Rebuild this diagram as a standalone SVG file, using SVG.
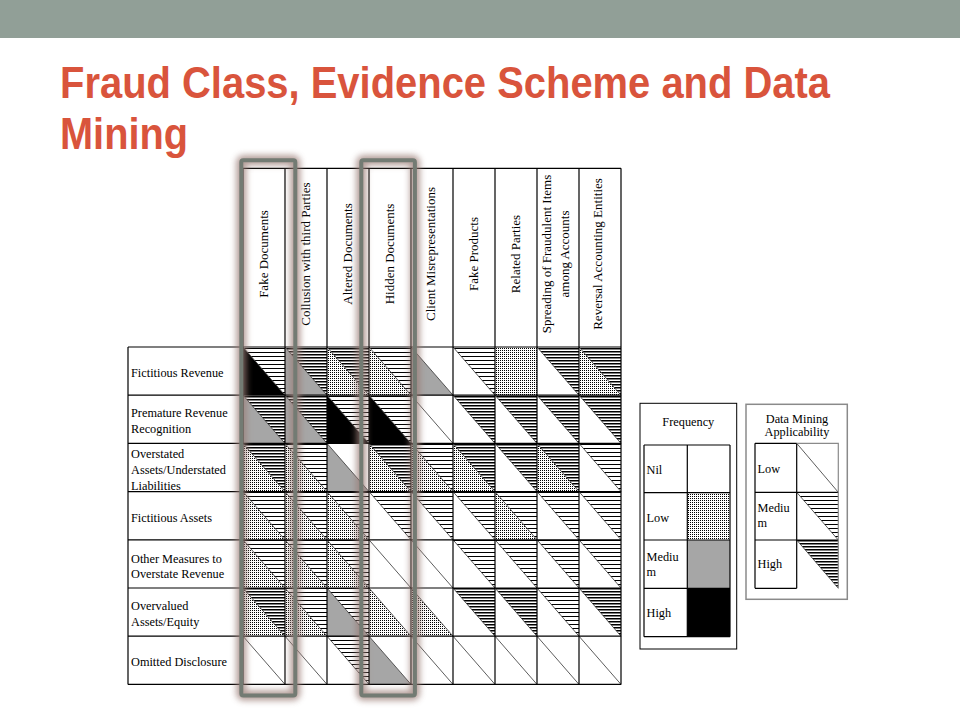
<svg xmlns="http://www.w3.org/2000/svg" width="960" height="720" viewBox="0 0 960 720">
<style>
.t{font-family:"Liberation Serif","Times New Roman",serif;font-size:12.3px;fill:#000}
.th{font-size:13px}
.ttl{font-family:"Liberation Sans",Arial,sans-serif;font-weight:bold;font-size:44px;fill:#d9543c}
.fL{fill:url(#dots)}
.fM{fill:#a6a6a6}
.fH{fill:#000}
.d1{fill:url(#med)}
.d2{fill:url(#dense)}
.dg{stroke:#333;stroke-width:0.8;fill:none}
.grid{stroke:#000;stroke-width:1.2;fill:none}
.hl{fill:none;stroke:#737b73;stroke-width:4}
.hls{fill:none;stroke:#9a7c74;stroke-width:10;opacity:0.75}
</style>
<defs>
<pattern id="dots" width="2" height="2" patternUnits="userSpaceOnUse"><rect width="2" height="2" fill="#fff"/><rect width="1" height="1" fill="#000"/></pattern>
<pattern id="med" width="4" height="4" patternUnits="userSpaceOnUse"><rect width="4" height="4" fill="#fff"/><rect width="4" height="1" fill="#000"/></pattern>
<pattern id="dense" width="3" height="3" patternUnits="userSpaceOnUse"><rect width="3" height="3" fill="#fff"/><rect width="3" height="1.5" fill="#000"/></pattern>
<filter id="blur" x="-30%" y="-10%" width="160%" height="120%"><feGaussianBlur stdDeviation="3.2"/></filter>
</defs>
<rect width="960" height="720" fill="#fff"/>
<rect id="topbar" x="0" y="0" width="960" height="38" fill="#919f97"/>
<g id="title">
<text class="ttl" x="60" y="98" textLength="770" lengthAdjust="spacingAndGlyphs">Fraud Class, Evidence Scheme and Data</text>
<text class="ttl" x="60" y="149" textLength="128" lengthAdjust="spacingAndGlyphs">Mining</text>
</g>

<g id="cells">
<g id="r1c1"><polygon class="fH" points="243,347 243,395.2 285,395.2"/><polygon class="d1" points="243,347 285,347 285,395.2"/><line class="dg" x1="243" y1="347" x2="285" y2="395.2"/></g>
<g id="r1c2"><polygon class="fM" points="285,347 285,395.2 327,395.2"/><polygon class="d2" points="285,347 327,347 327,395.2"/><line class="dg" x1="285" y1="347" x2="327" y2="395.2"/></g>
<g id="r1c3"><polygon class="fL" points="327,347 327,395.2 369,395.2"/><polygon class="d2" points="327,347 369,347 369,395.2"/><line class="dg" x1="327" y1="347" x2="369" y2="395.2"/></g>
<g id="r1c4"><polygon class="fL" points="369,347 369,395.2 411,395.2"/><polygon class="d1" points="369,347 411,347 411,395.2"/><line class="dg" x1="369" y1="347" x2="411" y2="395.2"/></g>
<g id="r1c5"><polygon class="fM" points="411,347 411,395.2 453,395.2"/><line class="dg" x1="411" y1="347" x2="453" y2="395.2"/></g>
<g id="r1c6"><polygon class="d1" points="453,347 495,347 495,395.2"/><line class="dg" x1="453" y1="347" x2="495" y2="395.2"/></g>
<g id="r1c7"><rect class="fL" x="495" y="347" width="42" height="48.2"/></g>
<g id="r1c8"><polygon class="d2" points="537,347 579,347 579,395.2"/><line class="dg" x1="537" y1="347" x2="579" y2="395.2"/></g>
<g id="r1c9"><polygon class="fL" points="579,347 579,395.2 621,395.2"/><polygon class="d2" points="579,347 621,347 621,395.2"/><line class="dg" x1="579" y1="347" x2="621" y2="395.2"/></g>

<g id="r2c1"><polygon class="fM" points="243,395.2 243,443.4 285,443.4"/><polygon class="d2" points="243,395.2 285,395.2 285,443.4"/><line class="dg" x1="243" y1="395.2" x2="285" y2="443.4"/></g>
<g id="r2c2"><polygon class="fM" points="285,395.2 285,443.4 327,443.4"/><polygon class="d2" points="285,395.2 327,395.2 327,443.4"/><line class="dg" x1="285" y1="395.2" x2="327" y2="443.4"/></g>
<g id="r2c3"><polygon class="fH" points="327,395.2 327,443.4 369,443.4"/><polygon class="d1" points="327,395.2 369,395.2 369,443.4"/><line class="dg" x1="327" y1="395.2" x2="369" y2="443.4"/></g>
<g id="r2c4"><polygon class="fH" points="369,395.2 369,443.4 411,443.4"/><polygon class="d1" points="369,395.2 411,395.2 411,443.4"/><line class="dg" x1="369" y1="395.2" x2="411" y2="443.4"/></g>
<g id="r2c5"><line class="dg" x1="411" y1="395.2" x2="453" y2="443.4"/></g>
<g id="r2c6"><polygon class="d2" points="453,395.2 495,395.2 495,443.4"/><line class="dg" x1="453" y1="395.2" x2="495" y2="443.4"/></g>
<g id="r2c7"><polygon class="d2" points="495,395.2 537,395.2 537,443.4"/><line class="dg" x1="495" y1="395.2" x2="537" y2="443.4"/></g>
<g id="r2c8"><polygon class="d2" points="537,395.2 579,395.2 579,443.4"/><line class="dg" x1="537" y1="395.2" x2="579" y2="443.4"/></g>
<g id="r2c9"><polygon class="d2" points="579,395.2 621,395.2 621,443.4"/><line class="dg" x1="579" y1="395.2" x2="621" y2="443.4"/></g>

<g id="r3c1"><polygon class="fL" points="243,443.4 243,491.6 285,491.6"/><polygon class="d2" points="243,443.4 285,443.4 285,491.6"/><line class="dg" x1="243" y1="443.4" x2="285" y2="491.6"/></g>
<g id="r3c2"><polygon class="fL" points="285,443.4 285,491.6 327,491.6"/><polygon class="d1" points="285,443.4 327,443.4 327,491.6"/><line class="dg" x1="285" y1="443.4" x2="327" y2="491.6"/></g>
<g id="r3c3"><polygon class="fM" points="327,443.4 327,491.6 369,491.6"/><line class="dg" x1="327" y1="443.4" x2="369" y2="491.6"/></g>
<g id="r3c4"><polygon class="fL" points="369,443.4 369,491.6 411,491.6"/><polygon class="d2" points="369,443.4 411,443.4 411,491.6"/><line class="dg" x1="369" y1="443.4" x2="411" y2="491.6"/></g>
<g id="r3c5"><polygon class="fL" points="411,443.4 411,491.6 453,491.6"/><polygon class="d1" points="411,443.4 453,443.4 453,491.6"/><line class="dg" x1="411" y1="443.4" x2="453" y2="491.6"/></g>
<g id="r3c6"><polygon class="fL" points="453,443.4 453,491.6 495,491.6"/><polygon class="d2" points="453,443.4 495,443.4 495,491.6"/><line class="dg" x1="453" y1="443.4" x2="495" y2="491.6"/></g>
<g id="r3c7"><polygon class="d2" points="495,443.4 537,443.4 537,491.6"/><line class="dg" x1="495" y1="443.4" x2="537" y2="491.6"/></g>
<g id="r3c8"><polygon class="fL" points="537,443.4 537,491.6 579,491.6"/><polygon class="d2" points="537,443.4 579,443.4 579,491.6"/><line class="dg" x1="537" y1="443.4" x2="579" y2="491.6"/></g>
<g id="r3c9"><polygon class="d1" points="579,443.4 621,443.4 621,491.6"/><line class="dg" x1="579" y1="443.4" x2="621" y2="491.6"/></g>

<g id="r4c1"><polygon class="fL" points="243,491.6 243,539.8 285,539.8"/><polygon class="d1" points="243,491.6 285,491.6 285,539.8"/><line class="dg" x1="243" y1="491.6" x2="285" y2="539.8"/></g>
<g id="r4c2"><polygon class="fL" points="285,491.6 285,539.8 327,539.8"/><polygon class="d1" points="285,491.6 327,491.6 327,539.8"/><line class="dg" x1="285" y1="491.6" x2="327" y2="539.8"/></g>
<g id="r4c3"><polygon class="fL" points="327,491.6 327,539.8 369,539.8"/><polygon class="d1" points="327,491.6 369,491.6 369,539.8"/><line class="dg" x1="327" y1="491.6" x2="369" y2="539.8"/></g>
<g id="r4c4"><polygon class="d1" points="369,491.6 411,491.6 411,539.8"/><line class="dg" x1="369" y1="491.6" x2="411" y2="539.8"/></g>
<g id="r4c5"><polygon class="d1" points="411,491.6 453,491.6 453,539.8"/><line class="dg" x1="411" y1="491.6" x2="453" y2="539.8"/></g>
<g id="r4c6"><polygon class="d1" points="453,491.6 495,491.6 495,539.8"/><line class="dg" x1="453" y1="491.6" x2="495" y2="539.8"/></g>
<g id="r4c7"><polygon class="fL" points="495,491.6 495,539.8 537,539.8"/><polygon class="d1" points="495,491.6 537,491.6 537,539.8"/><line class="dg" x1="495" y1="491.6" x2="537" y2="539.8"/></g>
<g id="r4c8"><polygon class="d1" points="537,491.6 579,491.6 579,539.8"/><line class="dg" x1="537" y1="491.6" x2="579" y2="539.8"/></g>
<g id="r4c9"><polygon class="d1" points="579,491.6 621,491.6 621,539.8"/><line class="dg" x1="579" y1="491.6" x2="621" y2="539.8"/></g>

<g id="r5c1"><polygon class="fL" points="243,539.8 243,588 285,588"/><polygon class="d1" points="243,539.8 285,539.8 285,588"/><line class="dg" x1="243" y1="539.8" x2="285" y2="588"/></g>
<g id="r5c2"><polygon class="fL" points="285,539.8 285,588 327,588"/><polygon class="d1" points="285,539.8 327,539.8 327,588"/><line class="dg" x1="285" y1="539.8" x2="327" y2="588"/></g>
<g id="r5c3"><polygon class="fL" points="327,539.8 327,588 369,588"/><polygon class="d1" points="327,539.8 369,539.8 369,588"/><line class="dg" x1="327" y1="539.8" x2="369" y2="588"/></g>
<g id="r5c4"><line class="dg" x1="369" y1="539.8" x2="411" y2="588"/></g>
<g id="r5c5"><line class="dg" x1="411" y1="539.8" x2="453" y2="588"/></g>
<g id="r5c6"><polygon class="d1" points="453,539.8 495,539.8 495,588"/><line class="dg" x1="453" y1="539.8" x2="495" y2="588"/></g>
<g id="r5c7"><polygon class="d1" points="495,539.8 537,539.8 537,588"/><line class="dg" x1="495" y1="539.8" x2="537" y2="588"/></g>
<g id="r5c8"><polygon class="d1" points="537,539.8 579,539.8 579,588"/><line class="dg" x1="537" y1="539.8" x2="579" y2="588"/></g>
<g id="r5c9"><polygon class="d1" points="579,539.8 621,539.8 621,588"/><line class="dg" x1="579" y1="539.8" x2="621" y2="588"/></g>

<g id="r6c1"><polygon class="fL" points="243,588 243,636.2 285,636.2"/><polygon class="d2" points="243,588 285,588 285,636.2"/><line class="dg" x1="243" y1="588" x2="285" y2="636.2"/></g>
<g id="r6c2"><polygon class="fL" points="285,588 285,636.2 327,636.2"/><polygon class="d1" points="285,588 327,588 327,636.2"/><line class="dg" x1="285" y1="588" x2="327" y2="636.2"/></g>
<g id="r6c3"><polygon class="fM" points="327,588 327,636.2 369,636.2"/><polygon class="d1" points="327,588 369,588 369,636.2"/><line class="dg" x1="327" y1="588" x2="369" y2="636.2"/></g>
<g id="r6c4"><polygon class="fL" points="369,588 369,636.2 411,636.2"/><line class="dg" x1="369" y1="588" x2="411" y2="636.2"/></g>
<g id="r6c5"><polygon class="fL" points="411,588 411,636.2 453,636.2"/><line class="dg" x1="411" y1="588" x2="453" y2="636.2"/></g>
<g id="r6c6"><polygon class="d2" points="453,588 495,588 495,636.2"/><line class="dg" x1="453" y1="588" x2="495" y2="636.2"/></g>
<g id="r6c7"><polygon class="d2" points="495,588 537,588 537,636.2"/><line class="dg" x1="495" y1="588" x2="537" y2="636.2"/></g>
<g id="r6c8"><polygon class="d1" points="537,588 579,588 579,636.2"/><line class="dg" x1="537" y1="588" x2="579" y2="636.2"/></g>
<g id="r6c9"><polygon class="d2" points="579,588 621,588 621,636.2"/><line class="dg" x1="579" y1="588" x2="621" y2="636.2"/></g>

<g id="r7c1"><line class="dg" x1="243" y1="636.2" x2="285" y2="684.4"/></g>
<g id="r7c2"><line class="dg" x1="285" y1="636.2" x2="327" y2="684.4"/></g>
<g id="r7c3"><polygon class="d1" points="327,636.2 369,636.2 369,684.4"/><line class="dg" x1="327" y1="636.2" x2="369" y2="684.4"/></g>
<g id="r7c4"><polygon class="fM" points="369,636.2 369,684.4 411,684.4"/><line class="dg" x1="369" y1="636.2" x2="411" y2="684.4"/></g>
<g id="r7c5"><line class="dg" x1="411" y1="636.2" x2="453" y2="684.4"/></g>
<g id="r7c6"><line class="dg" x1="453" y1="636.2" x2="495" y2="684.4"/></g>
<g id="r7c7"><line class="dg" x1="495" y1="636.2" x2="537" y2="684.4"/></g>
<g id="r7c8"><line class="dg" x1="537" y1="636.2" x2="579" y2="684.4"/></g>
<g id="r7c9"><line class="dg" x1="579" y1="636.2" x2="621" y2="684.4"/></g>
</g>

<g id="grid" class="grid">
<path d="M243 168.3H621M128 347H621M128 395.2H621M128 443.4H621M128 491.6H621M128 539.8H621M128 588H621M128 636.2H621M128 684.4H621"/>
<path d="M128 347V684.4M243 168.3V684.4M285 168.3V684.4M327 168.3V684.4M369 168.3V684.4M411 168.3V684.4M453 168.3V684.4M495 168.3V684.4M537 168.3V684.4M579 168.3V684.4M621 168.3V684.4"/>
</g>

<g id="column-headers" class="t th">
<g id="col-fake-documents"><text transform="translate(267.5,254) rotate(-90)" text-anchor="middle">Fake Documents</text></g>
<g id="col-collusion"><text transform="translate(309.5,254) rotate(-90)" text-anchor="middle">Collusion with third Parties</text></g>
<g id="col-altered-documents"><text transform="translate(351.5,254) rotate(-90)" text-anchor="middle">Altered Documents</text></g>
<g id="col-hidden-documents"><text transform="translate(393.5,254) rotate(-90)" text-anchor="middle">Hidden Documents</text></g>
<g id="col-client-misrepresentations"><text transform="translate(434.5,254) rotate(-90)" text-anchor="middle">Client Misrepresentations</text></g>
<g id="col-fake-products"><text transform="translate(477.5,254) rotate(-90)" text-anchor="middle">Fake Products</text></g>
<g id="col-related-parties"><text transform="translate(519.5,254) rotate(-90)" text-anchor="middle">Related Parties</text></g>
<g id="col-spreading"><text transform="translate(550.5,254) rotate(-90)" text-anchor="middle">Spreading of Fraudulent Items</text><text transform="translate(568.5,254) rotate(-90)" text-anchor="middle">among Accounts</text></g>
<g id="col-reversal"><text transform="translate(601.5,254) rotate(-90)" text-anchor="middle">Reversal Accounting Entities</text></g>
</g>

<g id="row-labels" class="t">
<g id="row-fictitious-revenue"><text x="131" y="377">Fictitious Revenue</text></g>
<g id="row-premature-revenue"><text x="131" y="417">Premature Revenue</text><text x="131" y="433">Recognition</text></g>
<g id="row-overstated-assets"><text x="131" y="458">Overstated</text><text x="131" y="474">Assets/Understated</text><text x="131" y="489.5">Liabilities</text></g>
<g id="row-fictitious-assets"><text x="131" y="522">Fictitious Assets</text></g>
<g id="row-other-measures"><text x="131" y="562.5">Other Measures to</text><text x="131" y="577.5">Overstate Revenue</text></g>
<g id="row-overvalued-assets"><text x="131" y="610">Overvalued</text><text x="131" y="626">Assets/Equity</text></g>
<g id="row-omitted-disclosure"><text x="131" y="666">Omitted Disclosure</text></g>
</g>

<g id="highlight-fake-documents">
<rect class="hls" x="241.3" y="160.3" width="54" height="535.2" rx="2" filter="url(#blur)"/>
<rect class="hl" x="241.3" y="160.3" width="54" height="535.2" rx="2"/>
</g>
<g id="highlight-hidden-documents">
<rect class="hls" x="361.3" y="160.3" width="53.6" height="535.2" rx="2" filter="url(#blur)"/>
<rect class="hl" x="361.3" y="160.3" width="53.6" height="535.2" rx="2"/>
</g>

<g id="legend-frequency">
<rect x="640" y="403.3" width="96.7" height="245.7" fill="#fff" stroke="#000" stroke-width="1"/>
<text class="t" x="688.3" y="426" text-anchor="middle">Frequency</text>
<rect class="fL" x="687.3" y="492.7" width="42.7" height="47.3"/>
<rect class="fM" x="687.3" y="540" width="42.7" height="48.3"/>
<rect class="fH" x="687.3" y="588.3" width="42.7" height="48.4"/>
<path class="grid" d="M644 445H730M644 492.7H730M644 540H730M644 588.3H730M644 636.7H730M644 445V636.7M687.3 445V636.7M730 445V636.7"/>
<text class="t" x="646.5" y="473.5">Nil</text>
<text class="t" x="646.5" y="521.5">Low</text>
<text class="t" x="646.5" y="560.5">Mediu</text>
<text class="t" x="646.5" y="575.5">m</text>
<text class="t" x="646.5" y="617">High</text>
</g>

<g id="legend-data-mining">
<rect x="746" y="404.3" width="101.3" height="195" fill="#fff" stroke="#8a8a8a" stroke-width="1.5"/>
<text class="t" x="797" y="422.5" text-anchor="middle">Data Mining</text>
<text class="t" x="797" y="436" text-anchor="middle">Applicability</text>
<polygon class="d1" points="796.7,492.3 838.3,492.3 838.3,540"/>
<polygon class="d2" points="796.7,540 838.3,540 838.3,588.3"/>
<line class="dg" x1="796.7" y1="443.3" x2="838.3" y2="492.3"/>
<line class="dg" x1="796.7" y1="492.3" x2="838.3" y2="540"/>
<line class="dg" x1="796.7" y1="540" x2="838.3" y2="588.3"/>
<path class="grid" d="M755 443.3H796.7M755 492.3H838.3M755 540H838.3M755 588.3H796.7M755 443.3V588.3M796.7 443.3V588.3"/>
<path d="M796.7 443.3H838.3V588.3" fill="none" stroke="#8a8a8a" stroke-width="1.2"/>
<text class="t" x="757.5" y="472.5">Low</text>
<text class="t" x="757.5" y="512">Mediu</text>
<text class="t" x="757.5" y="527">m</text>
<text class="t" x="757.5" y="568">High</text>
</g>
</svg>
